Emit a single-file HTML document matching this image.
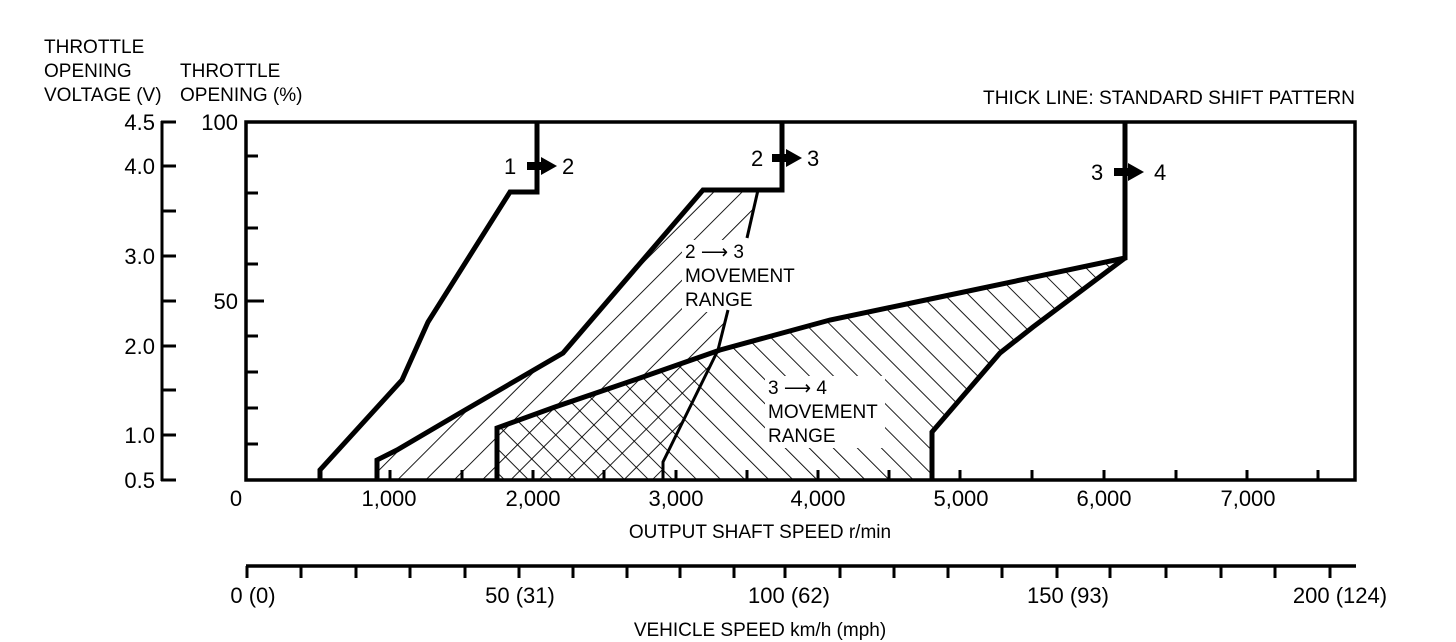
<!DOCTYPE html>
<html><head><meta charset="utf-8"><style>
html,body{margin:0;padding:0;background:#fff;}
svg{display:block;}
text{font-family:"Liberation Sans",Arial,sans-serif;fill:#000;}
</style></head><body>
<svg width="1456" height="642" viewBox="0 0 1456 642" xmlns="http://www.w3.org/2000/svg">
<defs>
<pattern id="fw" patternUnits="userSpaceOnUse" width="20" height="20" patternTransform="rotate(45)">
<line x1="0" y1="0" x2="0" y2="20" stroke="#000" stroke-width="1.8"/></pattern>
<pattern id="bw" patternUnits="userSpaceOnUse" width="17" height="17" patternTransform="rotate(-45)">
<line x1="0" y1="0" x2="0" y2="17" stroke="#000" stroke-width="1.8"/></pattern>
<clipPath id="pc"><rect x="246" y="122" width="1109" height="358"/></clipPath>
</defs>
<g font-size="19">
<text x="44" y="53">THROTTLE</text>
<text x="44" y="77">OPENING</text>
<text x="44" y="101">VOLTAGE (V)</text>
<text x="180" y="77">THROTTLE</text>
<text x="180" y="101">OPENING (%)</text>
<text x="1355" y="104" text-anchor="end" textLength="372" lengthAdjust="spacingAndGlyphs">THICK LINE: STANDARD SHIFT PATTERN</text>
</g>
<g clip-path="url(#pc)">
<polygon points="377,480 377,460 397,450 460,413 563,353 703,190 758,190 747,238 728,310 718,350 663,462 663,480" fill="url(#fw)"/>
<polygon points="497,480 497,428 555,407 640,378 720,350 830,320 940,297 1125,258 1033,327 1000,353 932,432 932,480" fill="url(#bw)"/>
</g>
<rect x="682" y="240" width="118" height="72" fill="#fff"/>
<rect x="765" y="376" width="120" height="72" fill="#fff"/>
<g font-size="19">
<text x="685" y="258">2 ⟶ 3</text>
<text x="685" y="282">MOVEMENT</text>
<text x="685" y="306">RANGE</text>
<text x="768" y="394">3 ⟶ 4</text>
<text x="768" y="418">MOVEMENT</text>
<text x="768" y="442">RANGE</text>
</g>
<polyline points="758,190 747,238" fill="none" stroke="#000" stroke-width="3"/>
<polyline points="728,310 718,350 663,462 663,480" fill="none" stroke="#000" stroke-width="3"/>
<g fill="none" stroke="#000" stroke-width="5" stroke-linejoin="miter">
<polyline points="320,480 320,470 402,380 428,322 510,192 537,192 537,122"/>
<polyline points="377,480 377,460 397,450 460,413 563,353 703,190 782,190 782,122"/>
<polyline points="497,480 497,428 555,407 640,378 720,350 830,320 940,297 1125,258 1125,122"/>
<polyline points="932,480 932,432 1000,353 1033,327 1125,258"/>
</g>
<rect x="246" y="122" width="1109" height="358" fill="none" stroke="#000" stroke-width="3.5"/>
<g>
<rect x="527" y="162" width="16" height="8" fill="#000"/><polygon points="541,157 557,166 541,175" fill="#000"/>
<rect x="772" y="154" width="16" height="8" fill="#000"/><polygon points="786,149 802,158 786,167" fill="#000"/>
<rect x="1114" y="168" width="16" height="8" fill="#000"/><polygon points="1128,163 1144,172 1128,181" fill="#000"/>
</g>
<g font-size="22">
<text x="504" y="174">1</text><text x="562" y="174">2</text>
<text x="751" y="166">2</text><text x="807" y="166">3</text>
<text x="1091" y="180">3</text><text x="1154" y="180">4</text>
</g>
<g stroke="#000" stroke-width="3">
<line x1="162" y1="121" x2="162" y2="481"/>
<line x1="161" y1="122" x2="176" y2="122"/><line x1="161" y1="166" x2="176" y2="166"/>
<line x1="161" y1="211" x2="176" y2="211"/><line x1="161" y1="256" x2="176" y2="256"/>
<line x1="161" y1="301" x2="176" y2="301"/><line x1="161" y1="346" x2="176" y2="346"/>
<line x1="161" y1="390" x2="176" y2="390"/><line x1="161" y1="435" x2="176" y2="435"/>
<line x1="161" y1="480" x2="176" y2="480"/>
</g>
<g font-size="22" text-anchor="end">
<text x="155" y="130">4.5</text><text x="155" y="174">4.0</text>
<text x="155" y="264">3.0</text><text x="155" y="354">2.0</text>
<text x="155" y="443">1.0</text><text x="155" y="488">0.5</text>
<text x="238" y="130">100</text><text x="238" y="309">50</text>
</g>
<g stroke="#000" stroke-width="3">
<line x1="246" y1="156" x2="258" y2="156"/><line x1="246" y1="193" x2="258" y2="193"/>
<line x1="246" y1="228" x2="258" y2="228"/><line x1="246" y1="264" x2="258" y2="264"/>
<line x1="246" y1="301" x2="264" y2="301"/><line x1="246" y1="336" x2="258" y2="336"/>
<line x1="246" y1="372" x2="258" y2="372"/><line x1="246" y1="408" x2="258" y2="408"/>
<line x1="246" y1="444" x2="258" y2="444"/>
</g>
<g stroke="#000" stroke-width="3">
<line x1="319" y1="480" x2="319" y2="470"/><line x1="390" y1="480" x2="390" y2="470"/>
<line x1="462" y1="480" x2="462" y2="470"/><line x1="533" y1="480" x2="533" y2="470"/>
<line x1="604" y1="480" x2="604" y2="470"/><line x1="676" y1="480" x2="676" y2="470"/>
<line x1="747" y1="480" x2="747" y2="470"/><line x1="818" y1="480" x2="818" y2="470"/>
<line x1="889" y1="480" x2="889" y2="470"/><line x1="960" y1="480" x2="960" y2="470"/>
<line x1="1032" y1="480" x2="1032" y2="470"/><line x1="1104" y1="480" x2="1104" y2="470"/>
<line x1="1176" y1="480" x2="1176" y2="470"/><line x1="1247" y1="480" x2="1247" y2="470"/>
<line x1="1318" y1="480" x2="1318" y2="470"/>
</g>
<g font-size="22" text-anchor="middle">
<text x="236" y="506">0</text><text x="389" y="506">1,000</text>
<text x="533" y="506">2,000</text><text x="676" y="506">3,000</text>
<text x="818" y="506">4,000</text><text x="961" y="506">5,000</text>
<text x="1104" y="506">6,000</text><text x="1248" y="506">7,000</text>
</g>
<text x="760" y="538" font-size="19" text-anchor="middle">OUTPUT SHAFT SPEED r/min</text>
<line x1="246" y1="566" x2="1356" y2="566" stroke="#000" stroke-width="3.5"/>
<g stroke="#000" stroke-width="3">
<line x1="247" y1="566" x2="247" y2="578"/><line x1="301" y1="566" x2="301" y2="578"/>
<line x1="356" y1="566" x2="356" y2="578"/><line x1="410" y1="566" x2="410" y2="578"/>
<line x1="465" y1="566" x2="465" y2="578"/><line x1="519" y1="566" x2="519" y2="578"/>
<line x1="573" y1="566" x2="573" y2="578"/><line x1="627" y1="566" x2="627" y2="578"/>
<line x1="680" y1="566" x2="680" y2="578"/><line x1="734" y1="566" x2="734" y2="578"/>
<line x1="785" y1="566" x2="785" y2="578"/><line x1="840" y1="566" x2="840" y2="578"/>
<line x1="894" y1="566" x2="894" y2="578"/><line x1="948" y1="566" x2="948" y2="578"/>
<line x1="1002" y1="566" x2="1002" y2="578"/><line x1="1057" y1="566" x2="1057" y2="578"/>
<line x1="1110" y1="566" x2="1110" y2="578"/><line x1="1166" y1="566" x2="1166" y2="578"/>
<line x1="1221" y1="566" x2="1221" y2="578"/><line x1="1275" y1="566" x2="1275" y2="578"/>
<line x1="1330" y1="566" x2="1330" y2="578"/>
</g>
<g font-size="22" text-anchor="middle">
<text x="253" y="603">0 (0)</text><text x="520" y="603">50 (31)</text>
<text x="789" y="603">100 (62)</text><text x="1068" y="603">150 (93)</text>
<text x="1340" y="603">200 (124)</text>
</g>
<text x="760" y="636" font-size="19" text-anchor="middle">VEHICLE SPEED km/h (mph)</text>
</svg>
</body></html>
